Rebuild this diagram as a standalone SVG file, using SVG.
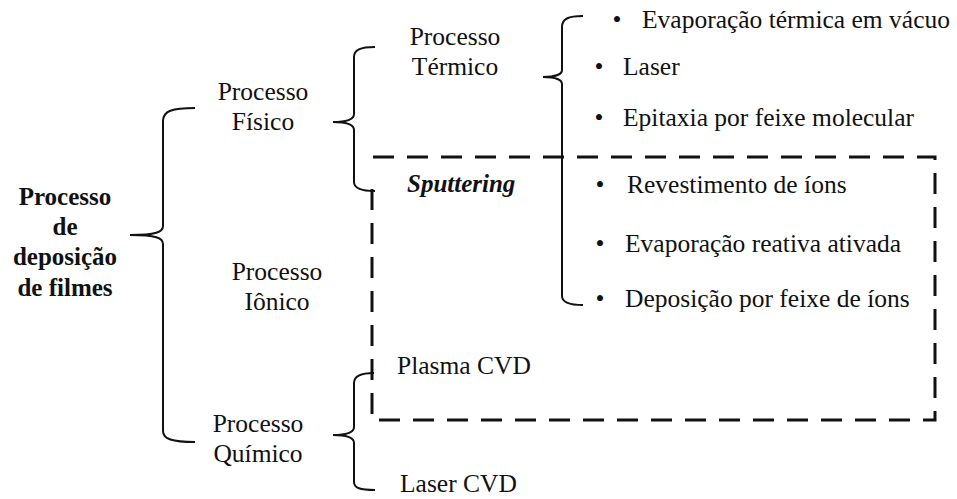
<svg xmlns="http://www.w3.org/2000/svg" width="957" height="499" viewBox="0 0 957 499">
<style>
text{font-family:'Liberation Serif','Times New Roman',Tinos,'DejaVu Serif',serif;font-size:25.5px;fill:#111}
.b{font-weight:bold;font-size:25px}
.bi{font-weight:bold;font-style:italic;font-size:25px}
.c{text-anchor:middle}
.br{fill:none;stroke:#111;stroke-width:2}
.dash{fill:none;stroke:#111;stroke-width:3;stroke-dasharray:21 13}
</style>
<rect width="957" height="499" fill="#fff"/>
<g id="connectors">
<path class="br" d="M195,108 C172,108 163,111 163,121 L163,226 C163,232 156,235 130,235 C156,235 163,238 163,244 L163,431 C163,439 172,442 195,442"/>
<path class="br" d="M375,47 C360,47 354,50 354,57 L354,114 C354,119 348,122 333,122 C348,122 354,125 354,130 L354,182 C354,188 360,191 375,191"/>
<path class="br" d="M374,373 C360,373 354,376 354,383 L354,427 C354,432 348,435 333,435 C348,435 354,438 354,443 L354,482 C354,488 360,490 375,490"/>
<path class="br" d="M583,16 C568,16 562,19 562,27 L562,70 C562,74 556,77 543,77 C556,77 562,80 562,84 L562,296 C562,302 568,305 583,305"/>
</g>
<g id="ionic-box">
<path class="dash" d="M373,157 L935,157 L935,420 L372,420 L372,176"/>
</g>
<g font-family="Liberation Serif, serif">
<g id="root">
<text class="b c" x="65" y="205">Processo</text>
<text class="b c" x="65" y="235">de</text>
<text class="b c" x="65" y="265">deposição</text>
<text class="b c" x="65" y="296">de filmes</text>
</g>
<g id="fisico">
<text class="c" x="263" y="100">Processo</text>
<text class="c" x="263" y="130">Físico</text>
</g>
<g id="ionico">
<text class="c" x="277" y="280">Processo</text>
<text class="c" x="277" y="310">Iônico</text>
</g>
<g id="quimico">
<text class="c" x="258" y="432">Processo</text>
<text class="c" x="258" y="462">Químico</text>
</g>
<g id="termico">
<text class="c" x="455" y="45">Processo</text>
<text class="c" x="455" y="75">Térmico</text>
</g>
<g id="sputtering">
<text class="bi" x="407" y="192">Sputtering</text>
</g>
<g id="plasma-cvd">
<text x="397" y="374">Plasma CVD</text>
</g>
<g id="laser-cvd">
<text x="400" y="492">Laser CVD</text>
</g>
<g id="item-evap-termica">
<text class="c" x="617" y="28">•</text>
<text x="642" y="28">Evaporação térmica em vácuo</text>
</g>
<g id="item-laser">
<text class="c" x="599" y="75">•</text>
<text x="623" y="75">Laser</text>
</g>
<g id="item-epitaxia">
<text class="c" x="599" y="126">•</text>
<text x="623" y="126">Epitaxia por feixe molecular</text>
</g>
<g id="item-revestimento">
<text class="c" x="600" y="193">•</text>
<text x="627" y="193">Revestimento de íons</text>
</g>
<g id="item-evap-reativa">
<text class="c" x="600" y="252">•</text>
<text x="625" y="252">Evaporação reativa ativada</text>
</g>
<g id="item-deposicao">
<text class="c" x="600" y="307">•</text>
<text x="625" y="307">Deposição por feixe de íons</text>
</g>
</g>
</svg>
